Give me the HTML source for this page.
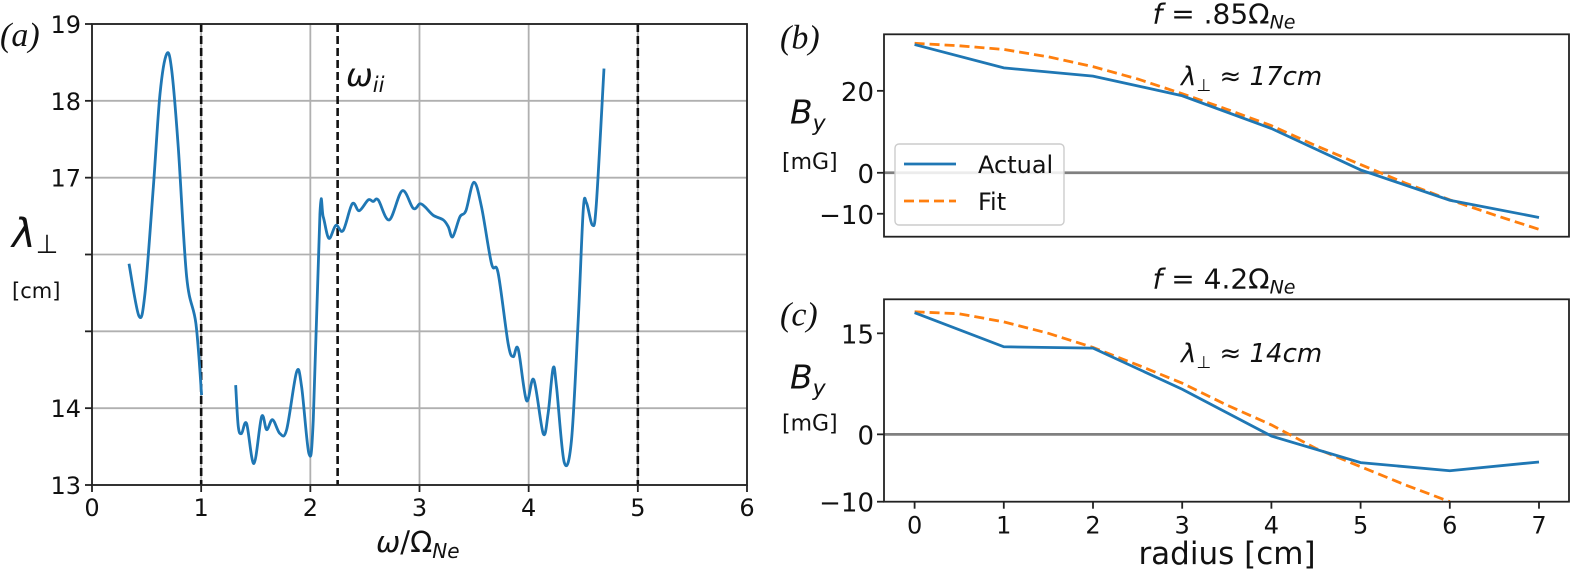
<!DOCTYPE html>
<html><head><meta charset="utf-8"><style>
body{margin:0;background:#fff;}
svg{display:block;font-family:"DejaVu Sans","Liberation Sans",sans-serif;}
</style></head><body>
<svg id="fig" width="1571" height="571" viewBox="0 0 1571 571"></svg>
<script>
// ---- Panel (a) data ----
const aSeg1X=[0.339,0.43,0.485,0.562,0.623,0.684,0.73,0.79,0.867,0.952,1.004];
const aSeg1Y=[15.88,15.2,15.49,16.88,18.09,18.61,18.4,17.4,15.71,15.1,14.17];
const aSeg2X=[1.316,1.34,1.37,1.416,1.483,1.554,1.6,1.654,1.721,1.783,1.874,1.92,1.987,2.027,2.088,2.118,2.17,2.234,2.3,2.384,2.448,2.53,2.576,2.622,2.723,2.842,2.943,3.004,3.05,3.126,3.218,3.264,3.304,3.37,3.425,3.498,3.568,3.66,3.72,3.812,3.858,3.904,3.98,4.047,4.133,4.178,4.224,4.255,4.325,4.392,4.454,4.5,4.53,4.585,4.62,4.69];
const aSeg2Y=[14.3,13.76,13.67,13.8,13.28,13.89,13.72,13.85,13.67,13.72,14.47,14.28,13.41,13.85,16.53,16.49,16.21,16.38,16.31,16.66,16.57,16.71,16.69,16.71,16.45,16.83,16.6,16.66,16.62,16.51,16.45,16.36,16.23,16.49,16.57,16.94,16.62,15.88,15.76,14.84,14.67,14.77,14.1,14.37,13.67,13.93,14.52,14.28,13.3,13.58,15.15,16.58,16.67,16.38,16.66,18.42];
const aXTicks=[0,1,2,3,4,5,6];
const aYGrid=[13,14,15,16,17,18,19];
const aYLabels=["13","14","","","17","18","19"];
const aVLines=[1,2.25,5];
// ---- Panel (b) data ----
const bActualX=[0,1,2,3,4,5,6,7];
const bActualY=[31.3,25.6,23.6,18.8,10.8,0.7,-6.7,-10.9];
const bFitX=[0,0.5,1,1.5,2,2.5,3,3.5,4,4.5,5,5.5,6,6.5,7];
const bFitY=[31.6,31.0,30.1,28.3,25.9,22.9,19.3,15.5,11.5,6.6,2.0,-2.5,-6.6,-10.3,-13.8];
const bYTicks=[20,0,-10];
// ---- Panel (c) data ----
const cActualX=[0,1,2,3,4,5,6,7];
const cActualY=[18.07,13.0,12.8,6.7,-0.25,-4.2,-5.4,-4.1];
const cFitX=[0,0.5,1,1.5,2,2.5,3,3.5,4,4.5,5,5.5,6];
const cFitY=[18.2,17.9,16.7,15.0,12.9,10.3,7.6,4.35,1.4,-2.1,-4.8,-7.5,-10];
const cYTicks=[15,0,-10];
const rXTicks=[0,1,2,3,4,5,6,7];

const NS="http://www.w3.org/2000/svg";
const svg=document.getElementById('fig');
function el(tag,attrs,parent,text){const e=document.createElementNS(NS,tag);for(const k in attrs)e.setAttribute(k,attrs[k]);if(text!==undefined)e.textContent=text;(parent||svg).appendChild(e);return e;}
function scale(d0,d1,p0,p1){return v=>p0+(v-d0)*(p1-p0)/(d1-d0);}
function smoothPath(xs,ys,sx,sy){const P=xs.map((x,i)=>[sx(x),sy(ys[i])]);let d=`M${P[0][0]},${P[0][1]}`;for(let i=0;i<P.length-1;i++){const p0=P[Math.max(i-1,0)],p1=P[i],p2=P[i+1],p3=P[Math.min(i+2,P.length-1)];const c1=[p1[0]+(p2[0]-p0[0])/6,p1[1]+(p2[1]-p0[1])/6],c2=[p2[0]-(p3[0]-p1[0])/6,p2[1]-(p3[1]-p1[1])/6];d+=` C${c1[0]},${c1[1]} ${c2[0]},${c2[1]} ${p2[0]},${p2[1]}`;}return d;}
function linePath(xs,ys,sx,sy){return xs.map((x,i)=>(i?'L':'M')+sx(x)+','+sy(ys[i])).join(' ');}

// ===== Panel a =====
const ax=scale(0,6,92,747), ay=scale(13,19,485,24);
const ga=el('g',{});


aXTicks.forEach(v=>{const l=el('line',{x1:ax(v),x2:ax(v),y1:24,y2:485,stroke:'#b0b0b0','stroke-width':1.8},ga);
 const t=el('line',{x1:ax(v),x2:ax(v),y1:485,y2:492,stroke:'#222','stroke-width':1.8},ga);
 const tx=el('text',{x:ax(v),y:516,'font-size':24,'text-anchor':'middle',fill:'#111'},ga,String(v));});
aYGrid.forEach((v,i)=>{const l=el('line',{x1:92,x2:747,y1:ay(v),y2:ay(v),stroke:'#b0b0b0','stroke-width':1.8},ga);
 const t=el('line',{x1:85,x2:92,y1:ay(v),y2:ay(v),stroke:'#222','stroke-width':1.8},ga);
 if(aYLabels[i]){const tx=el('text',{x:81,y:ay(v)+9,'font-size':24,'text-anchor':'end',fill:'#111'},ga,aYLabels[i]);}});
aVLines.forEach(v=>{const l=el('line',{x1:ax(v),x2:ax(v),y1:24,y2:485,stroke:'#111','stroke-width':2.6,'stroke-dasharray':'8,4'},ga);});
[[aSeg1X,aSeg1Y],[aSeg2X,aSeg2Y]].forEach(s=>{const p=el('path',{d:smoothPath(s[0],s[1],ax,ay),fill:'none',stroke:'#1f77b4','stroke-width':2.8},ga);});
const fa=el('rect',{x:92,y:24,width:655,height:461,fill:'none',stroke:'#222','stroke-width':1.8},ga);
let t;
t=el('text',{x:0,y:46,'font-size':34,'font-family':'Liberation Serif,serif','font-style':'italic',fill:'#111'},ga,'(a)');
t=el('text',{x:346,y:86,'font-size':32,'font-style':'italic',fill:'#111'},ga);t.innerHTML='ω<tspan font-size="21" dy="6">ii</tspan>';
t=el('text',{x:12,y:247,'font-size':40,'font-style':'italic',fill:'#111'},ga);t.innerHTML='λ<tspan font-size="26" font-style="normal" dy="6">⊥</tspan>';
t=el('text',{x:12,y:298,'font-size':21,fill:'#111'},ga,'[cm]');
t=el('text',{x:376,y:552,'font-size':29,fill:'#111'},ga);t.innerHTML='<tspan font-style="italic">ω</tspan>/Ω<tspan font-size="20" font-style="italic" dy="6">Ne</tspan>';

// ===== Panels b & c =====
function panel(name,top,bottom,ymin,ymax,ticks,actX,actY,fitX,fitY,title,lam,lbl,lamY,showX,legend){
 const g=el('g',{});
 
 
 const sx=scale(0,7,914.6,1539), sy=scale(ymin,ymax,bottom,top);
 const z=el('line',{x1:884,x2:1569,y1:sy(0),y2:sy(0),stroke:'#808080','stroke-width':2.8},g);
 ticks.forEach(v=>{const k=el('line',{x1:877,x2:884,y1:sy(v),y2:sy(v),stroke:'#222','stroke-width':1.8},g);
  const x=el('text',{x:874,y:sy(v)+10,'font-size':26,'text-anchor':'end',fill:'#111'},g,v<0?'−'+(-v):String(v));});
 if(showX)rXTicks.forEach(v=>{const k=el('line',{x1:sx(v),x2:sx(v),y1:bottom,y2:bottom+7,stroke:'#222','stroke-width':1.8},g);
  const x=el('text',{x:sx(v),y:bottom+32,'font-size':24,'text-anchor':'middle',fill:'#111'},g,String(v));});
 const fp=el('path',{d:linePath(fitX,fitY,sx,sy),fill:'none',stroke:'#ff7f0e','stroke-width':2.8,'stroke-dasharray':'10,5'},g);
 const ap=el('path',{d:linePath(actX,actY,sx,sy),fill:'none',stroke:'#1f77b4','stroke-width':2.8},g);
 const fr=el('rect',{x:884,y:top,width:685,height:bottom-top,fill:'none',stroke:'#222','stroke-width':1.8},g);
 let tt=el('text',{x:1224,y:top-11,'font-size':28,'text-anchor':'middle',fill:'#111'},g);tt.innerHTML='<tspan font-style="italic">f</tspan> = '+title+'Ω<tspan font-size="19" font-style="italic" dy="5">Ne</tspan>';
 tt=el('text',{x:1181,y:lamY,'font-size':26,'font-style':'italic',fill:'#111'},g);tt.innerHTML='λ<tspan font-size="17" dy="6">⊥</tspan><tspan dy="-6"> ≈ '+lam+'</tspan>';
 tt=el('text',{x:790,y:top+(bottom-top)*0.44,'font-size':33,'font-style':'italic',fill:'#111'},g);
 tt.innerHTML='B<tspan font-size="22" dy="7">y</tspan>';
 tt=el('text',{x:782,y:sy(0)-4,'font-size':22,fill:'#111'},g,'[mG]');
 tt=el('text',{x:780,y:top+(name==='panel-b'?14:26),'font-size':34,'font-family':'Liberation Serif,serif','font-style':'italic',fill:'#111'},g,lbl);
 if(legend){const lg=el('g',{},g);
  el('rect',{x:895,y:144,width:169,height:81,rx:4,fill:'#fff','fill-opacity':0.85,stroke:'#ccc','stroke-width':1.4},lg);
  let e=el('line',{x1:904,x2:956,y1:164,y2:164,stroke:'#1f77b4','stroke-width':2.8},lg);
  e=el('text',{x:978,y:173,'font-size':24,fill:'#111'},lg,'Actual');
  e=el('line',{x1:904,x2:956,y1:201,y2:201,stroke:'#ff7f0e','stroke-width':2.8,'stroke-dasharray':'10,5'},lg);
  e=el('text',{x:978,y:210,'font-size':24,fill:'#111'},lg,'Fit');}
}
panel('panel-b',34.3,236.7,-15.6,33.8,bYTicks,bActualX,bActualY,bFitX,bFitY,'.85','17cm','(b)',85,false,true);
panel('panel-c',299.3,501.7,-10,20.05,cYTicks,cActualX,cActualY,cFitX,cFitY,'4.2','14cm','(c)',362,true,false);
t=el('text',{x:1227,y:564,'font-size':31,'text-anchor':'middle',fill:'#111'},svg,'radius [cm]');


</script>
</body></html>
